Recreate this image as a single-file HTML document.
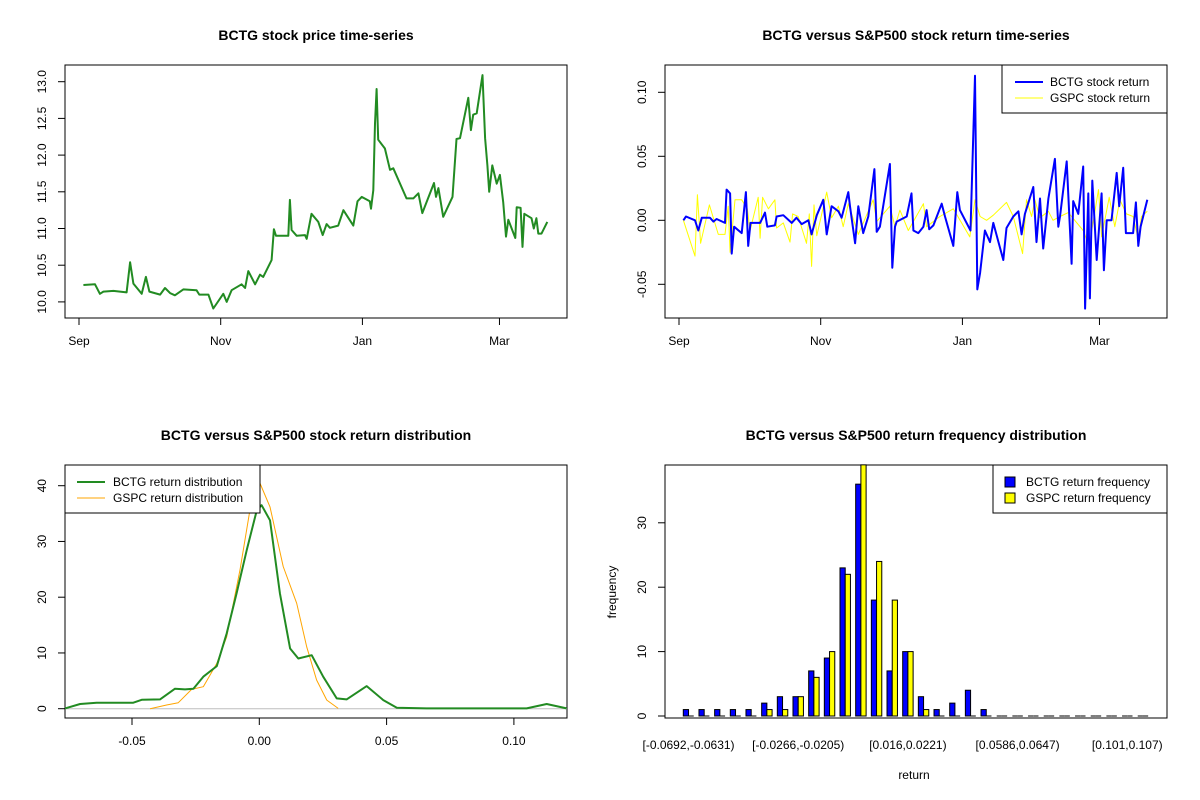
<!DOCTYPE html>
<html><head><meta charset="utf-8"><style>
body{margin:0;background:#fff}
svg{display:block;font-family:"Liberation Sans",Arial,sans-serif}
.t{font-weight:bold;font-size:14px;text-anchor:middle}
.tk{font-size:12px}
</style></head><body>
<svg id="chart" width="1200" height="800" viewBox="0 0 1200 800" xmlns="http://www.w3.org/2000/svg">
<rect width="1200" height="800" fill="#fff"/>
<g id="root"></g>
</svg>
<script>
// ---- Price series (days since Sep 1) ----
const priceDays=[1.9,6.9,9.0,10.5,14.8,20.5,22.0,23.4,27.0,28.8,30.3,34.9,37.0,39.2,41.3,44.9,50.6,51.8,55.7,57.8,62.1,63.6,65.7,70.0,71.5,72.9,75.8,77.9,79.3,82.9,83.9,84.8,90.1,90.8,91.5,93.7,97.3,98.0,100.1,103.0,104.9,106.6,108.0,111.6,113.8,118.1,119.9,121.7,125.2,125.7,126.7,127.4,128.1,128.8,131.7,133.9,135.3,141.0,143.9,146.1,147.8,152.8,153.7,154.7,156.8,160.8,162.5,164.0,167.6,168.7,169.7,171.2,173.7,174.8,175.8,176.6,177.9,179.8,181.2,182.6,183.8,184.8,187.8,188.4,190.1,190.9,191.7,194.8,195.8,196.9,197.7,199.1,201.6];
const priceVals=[10.23,10.24,10.11,10.14,10.15,10.13,10.54,10.25,10.11,10.34,10.14,10.10,10.19,10.12,10.09,10.17,10.16,10.10,10.10,9.91,10.11,10.00,10.16,10.24,10.19,10.42,10.24,10.37,10.34,10.57,10.99,10.90,10.90,11.39,10.98,10.90,10.91,10.86,11.20,11.09,10.91,11.06,11.01,11.04,11.25,11.04,11.37,11.43,11.37,11.27,11.52,12.43,12.90,12.21,12.09,11.80,11.82,11.41,11.41,11.48,11.21,11.62,11.43,11.55,11.16,11.43,12.22,12.23,12.78,12.34,12.55,12.57,13.09,12.23,11.86,11.50,11.86,11.61,11.73,11.36,10.89,11.12,10.87,11.29,11.28,10.75,11.20,11.14,11.00,11.14,10.93,10.93,11.09];
const priceTicks=[10.0,10.5,11.0,11.5,12.0,12.5,13.0];
const monthLabels=["Sep","Nov","Jan","Mar"];
const monthDays=[0,61,122,181];
// ---- Returns ----
const bctgDays=[1.9,3.0,6.9,8.3,9.8,13.3,14.8,16.2,19.8,20.5,22.0,22.7,23.7,27.0,28.8,29.8,30.8,34.9,37.0,38.0,41.3,42.0,44.9,48.5,50.6,52.8,55.7,57.1,59.3,62.1,63.6,65.7,68.6,70.0,72.9,73.6,75.8,77.2,79.3,81.5,84.1,85.1,86.5,90.8,91.8,93.0,93.7,98.0,100.1,100.9,103.0,105.2,106.6,107.7,109.5,113.1,114.5,118.1,119.8,120.9,125.5,127.4,128.4,129.6,131.7,133.9,135.3,139.6,141.0,143.9,146.1,147.5,148.9,152.5,153.9,155.4,156.8,159.0,161.8,163.3,164.0,166.9,169.0,169.7,171.9,174.0,174.8,176.2,176.9,177.9,179.8,181.9,182.9,184.1,186.2,188.4,189.5,191.2,192.4,194.4,195.5,196.7,197.7,198.7,201.6];
const bctgRet=[0.000,0.003,0.000,-0.008,0.002,0.002,-0.001,0.001,-0.002,0.024,0.021,-0.026,-0.005,-0.010,0.022,-0.020,-0.002,-0.002,0.006,-0.005,-0.004,0.003,0.004,-0.002,0.002,-0.003,0.000,-0.011,0.004,0.016,-0.011,0.011,0.007,0.002,0.022,0.011,-0.018,0.011,-0.010,0.003,0.040,-0.009,-0.005,0.044,-0.037,-0.005,-0.001,0.003,0.021,-0.008,-0.010,-0.005,0.008,-0.007,-0.004,0.013,0.003,-0.020,0.022,0.008,-0.008,0.113,-0.054,-0.041,-0.008,-0.017,-0.002,-0.031,-0.006,0.003,0.007,-0.011,0.005,0.026,-0.017,0.017,-0.022,0.017,0.048,-0.005,0.003,0.046,-0.034,0.015,0.005,0.042,-0.069,0.021,-0.061,0.031,-0.031,0.021,-0.039,0.000,0.000,0.037,0.011,0.041,-0.010,-0.010,-0.010,0.014,-0.020,-0.005,0.016];
const gspcDays=[1.9,6.9,7.9,9.3,13.1,16.9,19.8,21.2,22.0,24.1,27.0,29.4,30.6,34.1,34.9,36.0,38.5,41.3,42.0,44.9,47.8,48.9,51.3,54.9,56.1,57.1,58.1,59.3,63.6,65.7,68.6,70.7,72.9,77.2,83.6,85.1,90.8,93.0,95.1,98.7,105.2,106.6,112.3,118.1,125.2,127.4,129.6,132.4,135.3,141.0,143.9,147.9,149.6,151.8,153.2,155.4,159.0,161.0,164.0,167.6,174.0,176.6,180.6,181.9,185.2,187.6,189.8,192.6,195.5,197.7,199.1,201.6];
const gspcRet=[0.000,-0.028,0.020,-0.018,0.012,-0.011,-0.011,0.011,-0.025,0.016,0.016,0.009,-0.008,0.018,-0.014,0.018,0.009,0.016,-0.006,-0.002,-0.017,0.005,0.003,-0.018,0.005,-0.036,0.012,-0.012,0.022,0.002,0.011,-0.005,0.013,-0.011,0.016,-0.001,0.011,-0.005,0.008,-0.008,0.013,-0.005,0.003,0.009,-0.013,0.016,0.003,0.000,0.004,0.014,0.003,-0.026,0.016,0.003,0.016,0.002,0.007,0.000,0.003,0.006,-0.008,-0.020,0.024,-0.013,0.018,-0.005,0.016,0.005,0.003,-0.015,0.003,0.007];
const retTicks=[-0.05,0.00,0.05,0.10];
// ---- Densities ----
const bctgDenX=[-0.0763,-0.0704,-0.0639,-0.0495,-0.0462,-0.039,-0.0331,-0.0292,-0.0259,-0.022,-0.0167,-0.0128,-0.0089,-0.0049,-0.001,0.0009,0.0042,0.0081,0.0121,0.0153,0.0206,0.0251,0.0304,0.0343,0.0422,0.0487,0.054,0.0657,0.105,0.1129,0.1207];
const bctgDenY=[0.06,0.84,1.08,1.08,1.6,1.67,3.59,3.47,3.59,5.74,7.65,13.5,20.7,28.5,35.6,36.5,33.8,20.7,10.8,9.0,9.6,5.74,1.85,1.67,4.06,1.55,0.18,0.06,0.06,0.84,0.06];
const gspcDenX=[-0.0429,-0.0364,-0.0318,-0.0266,-0.022,-0.0167,-0.0128,-0.0076,-0.0037,0.0003,0.0042,0.0094,0.0147,0.0186,0.0225,0.0265,0.031];
const gspcDenY=[0,0.66,1.08,3.47,3.95,8.13,12.9,24.9,35.6,40.4,36.2,25.5,18.9,11.1,5.14,1.55,0.06];
const denXTicks=[-0.05,0.00,0.05,0.10];
const denYTicks=[0,10,20,30,40];
// ---- Histogram ----
const binLabels=["[-0.0692,-0.0631)","[-0.0266,-0.0205)","[0.016,0.0221)","[0.0586,0.0647)","[0.101,0.107)"];
const binLabelIdx=[0,7,14,21,28];
const bctgFreq=[1,1,1,1,1,2,3,3,7,9,23,36,18,7,10,3,1,2,4,1,0,0,0,0,0,0,0,0,0,0];
const gspcFreq=[0,0,0,0,0,1,1,3,6,10,22,39,24,18,10,1,0,0,0,0,0,0,0,0,0,0,0,0,0,0];
const freqTicks=[0,10,20,30];

const NS="http://www.w3.org/2000/svg";
const root=document.getElementById('root');
function mk(tag,attrs,parent,text){const e=document.createElementNS(NS,tag);for(const k in attrs)e.setAttribute(k,attrs[k]);if(text!==undefined)e.textContent=text;(parent||root).appendChild(e);return e;}
function box(x0,y0,x1,y1,name){const r=mk('rect',{x:x0,y:y0,width:x1-x0,height:y1-y0,fill:'none',stroke:'#000','stroke-width':1});

}
function poly(xs,ys,fx,fy,color,w,name){const pts=xs.map((v,i)=>fx(v).toFixed(1)+','+fy(ys[i]).toFixed(1)).join(' ');const p=mk('polyline',{points:pts,fill:'none',stroke:color,'stroke-width':w,'stroke-linejoin':'round'});

}
function txt(x,y,s,cls,anchor,rot,name){const a={x:x,y:y,class:cls,'text-anchor':anchor||'middle'};if(rot)a.transform='rotate(-90 '+x+' '+y+')';const t=mk('text',a,root,s);

return t;}
function line(x1,y1,x2,y2,c,w){return mk('line',{x1:x1,y1:y1,x2:x2,y2:y2,stroke:c||'#000','stroke-width':w||1});}
const fmt2=v=>v.toFixed(2), fmt1=v=>v.toFixed(1);

// ===== Panel 1 =====
const dx=d=>79+d*2.323;
const py=p=>81.7+(13-p)*73.4;
box(65,65,567,318,'price-plot-area');
txt(316,40,'BCTG stock price time-series','t','middle',false,'price-chart-title');
poly(priceDays,priceVals,dx,py,'#228B22',2,'price-line');
priceTicks.forEach(v=>{line(58,py(v),65,py(v));txt(46,py(v),fmt1(v),'tk','middle',true,'price-y-tick-label');});
monthDays.forEach((d,i)=>{line(dx(d),318,dx(d),325);txt(dx(d),345,monthLabels[i],'tk','middle',false,'price-x-tick-label');});

// ===== Panel 2 =====
const dx2=d=>679+d*2.323;
const ry=r=>220.3-r*1280;
box(665,65,1167,318,'return-plot-area');
txt(916,40,'BCTG versus S&P500 stock return time-series','t','middle',false,'return-chart-title');
poly(gspcDays,gspcRet,dx2,ry,'#FFFF00',1,'gspc-return-line');
poly(bctgDays,bctgRet,dx2,ry,'#0000FF',2,'bctg-return-line');
retTicks.forEach(v=>{line(658,ry(v),665,ry(v));txt(646,ry(v),fmt2(v),'tk','middle',true,'return-y-tick-label');});
monthDays.forEach((d,i)=>{line(dx2(d),318,dx2(d),325);txt(dx2(d),345,monthLabels[i],'tk','middle',false,'return-x-tick-label');});
mk('rect',{x:1002,y:65,width:165,height:48,fill:'#fff',stroke:'#000'});
line(1015,82,1043,82,'#0000FF',2);line(1015,98,1043,98,'#FFFF00',1);
txt(1050,86,'BCTG stock return','tk','start',false,'legend-bctg-return');
txt(1050,102,'GSPC stock return','tk','start',false,'legend-gspc-return');

// ===== Panel 3 =====
const vx=v=>259.3+v*2546;
const dy=d=>708.7-d*5.575;
box(65,465,567,718,'density-plot-area');
txt(316,440,'BCTG versus S&P500 stock return distribution','t','middle',false,'density-chart-title');
line(65,dy(0),567,dy(0),'#bebebe',1);
poly(gspcDenX,gspcDenY,vx,dy,'#FFA500',1,'gspc-density-line');
poly(bctgDenX,bctgDenY,vx,dy,'#228B22',2,'bctg-density-line');
denYTicks.forEach(v=>{line(58,dy(v),65,dy(v));txt(46,dy(v),String(v),'tk','middle',true,'density-y-tick-label');});
denXTicks.forEach(v=>{line(vx(v),718,vx(v),725);txt(vx(v),745,fmt2(v),'tk','middle',false,'density-x-tick-label');});
mk('rect',{x:65,y:465,width:195,height:48,fill:'#fff',stroke:'#000'});
line(77,482,105,482,'#228B22',2);line(77,498,105,498,'#FFA500',1);
txt(113,486,'BCTG return distribution','tk','start',false,'legend-bctg-density');
txt(113,502,'GSPC return distribution','tk','start',false,'legend-gspc-density');

// ===== Panel 4 =====
const bw=5.22, gw=15.67, gx=i=>683.3+i*gw;
const fy=c=>716-c*6.44;
box(665,465,1167,718,'histogram-plot-area');
txt(916,440,'BCTG versus S&P500 return frequency distribution','t','middle',false,'histogram-chart-title');
function bar(x,c,color,name){
  if(c>0){
    const b=mk('rect',{x:x,y:fy(c),width:bw,height:716-fy(c),fill:color,stroke:'#000','stroke-width':1});
    
    
  } else {
    const l=line(x,716,x+bw,716,'#000',1);
    
    
  }
}
bctgFreq.forEach((c,i)=>{bar(gx(i),c,'#0000FF','bctg-bar');bar(gx(i)+bw,gspcFreq[i],'#FFFF00','gspc-bar');});
freqTicks.forEach(v=>{line(658,fy(v),665,fy(v));txt(646,fy(v),String(v),'tk','middle',true,'histogram-y-tick-label');});
binLabelIdx.forEach((b,i)=>{txt(gx(b)+bw,749,binLabels[i],'tk','middle',false,'histogram-x-tick-label');});
txt(914,779,'return','tk','middle',false,'histogram-x-axis-title');
txt(616,592,'frequency','tk','middle',true,'histogram-y-axis-title');
mk('rect',{x:993,y:465,width:174,height:48,fill:'#fff',stroke:'#000'});
mk('rect',{x:1005,y:477,width:10,height:10,fill:'#0000FF',stroke:'#000'});
mk('rect',{x:1005,y:493,width:10,height:10,fill:'#FFFF00',stroke:'#000'});
txt(1026,486,'BCTG return frequency','tk','start',false,'legend-bctg-frequency');
txt(1026,502,'GSPC return frequency','tk','start',false,'legend-gspc-frequency');
</script>
</body></html>
